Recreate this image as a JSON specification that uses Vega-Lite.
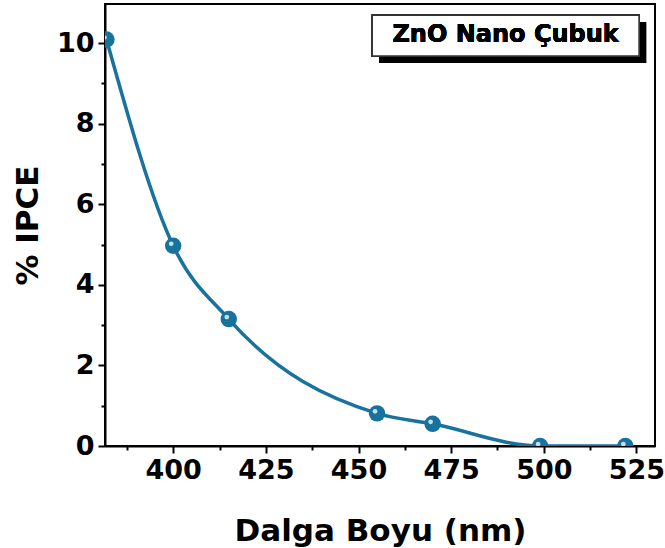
{
  "$schema": "https://vega.github.io/schema/vega-lite/v6.json",
  "autosize": "none",
  "width": 550,
  "height": 442,
  "padding": {"left": 105, "top": 4, "right": 10, "bottom": 102},
  "background": "white",
  "config": {
    "view": {"stroke": "black", "strokeWidth": 2},
    "font": "DejaVu Sans",
    "axis": {
      "domainColor": "black", "domainWidth": 2,
      "tickColor": "black", "tickWidth": 2,
      "labelFont": "DejaVu Sans", "labelFontWeight": "bold", "labelFontSize": 27, "labelColor": "black",
      "titleFont": "DejaVu Sans", "titleFontWeight": "bold", "titleFontSize": 31, "titleColor": "black",
      "grid": false
    }
  },
  "data": {
    "values": [
      {"wl": 382, "ipce": 10.09},
      {"wl": 400, "ipce": 4.97},
      {"wl": 415, "ipce": 3.15},
      {"wl": 455, "ipce": 0.81},
      {"wl": 470, "ipce": 0.55},
      {"wl": 499, "ipce": 0.0},
      {"wl": 522, "ipce": 0.0}
    ]
  },
  "layer": [
    {
      "mark": {"type": "line", "interpolate": "monotone", "color": "#17739e", "strokeWidth": 3.5, "clip": true},
      "encoding": {
        "x": {
          "field": "wl", "type": "quantitative",
          "scale": {"domain": [381.6, 530], "nice": false, "zero": false},
          "axis": {
            "title": "Dalga Boyu (nm)",
            "values": [387.5, 400, 412.5, 425, 437.5, 450, 462.5, 475, 487.5, 500, 512.5, 525],
            "labelExpr": "datum.value % 25 == 0 ? datum.label : ''",
            "tickSize": {"condition": {"test": "datum.value % 25 == 0", "value": 7}, "value": 4},
            "labelPadding": 4,
            "titlePadding": 33
          }
        },
        "y": {
          "field": "ipce", "type": "quantitative",
          "scale": {"domain": [0, 10.97], "nice": false},
          "axis": {
            "title": "% IPCE",
            "values": [0, 1, 2, 3, 4, 5, 6, 7, 8, 9, 10],
            "labelExpr": "datum.value % 2 == 0 ? datum.label : ''",
            "tickSize": {"condition": {"test": "datum.value % 2 == 0", "value": 7}, "value": 4},
            "labelPadding": 4,
            "titlePadding": 12
          }
        }
      }
    },
    {
      "mark": {"type": "point", "filled": true, "color": "#17739e", "size": 270, "opacity": 1, "clip": true},
      "encoding": {
        "x": {"field": "wl", "type": "quantitative"},
        "y": {"field": "ipce", "type": "quantitative"}
      }
    },
    {
      "mark": {"type": "point", "filled": true, "color": "#d6ebf3", "size": 22, "opacity": 0.9, "xOffset": -2, "yOffset": -2, "clip": true},
      "encoding": {
        "x": {"field": "wl", "type": "quantitative"},
        "y": {"field": "ipce", "type": "quantitative"}
      }
    },
    {
      "mark": {"type": "rect", "fill": "black", "xOffset": 7, "x2Offset": 7, "yOffset": 7, "y2Offset": 7},
      "encoding": {
        "x": {"datum": 453.7}, "x2": {"datum": 525.7},
        "y": {"datum": 10.69}, "y2": {"datum": 9.68}
      }
    },
    {
      "mark": {"type": "rect", "fill": "white", "stroke": "#333333", "strokeWidth": 1.5},
      "encoding": {
        "x": {"datum": 453.7}, "x2": {"datum": 525.7},
        "y": {"datum": 10.69}, "y2": {"datum": 9.68}
      }
    },
    {
      "mark": {"type": "text", "text": "ZnO Nano Çubuk", "font": "DejaVu Sans", "fontWeight": "bold", "fontSize": 24, "color": "black", "align": "center", "baseline": "middle"},
      "encoding": {
        "x": {"datum": 489.7},
        "y": {"datum": 10.19}
      }
    }
  ]
}
